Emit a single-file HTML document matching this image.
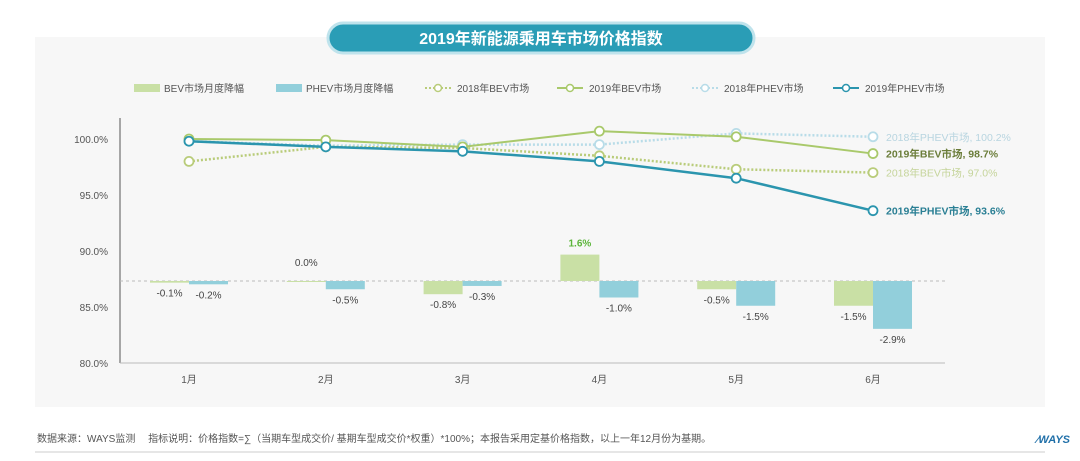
<!DOCTYPE html>
<html><head><meta charset="utf-8"><style>
body{margin:0;width:1080px;height:456px;background:#fff;font-family:"Liberation Sans","Noto Sans CJK SC",sans-serif;overflow:hidden}
</style></head><body>
<svg id="c" width="1080" height="456" xmlns="http://www.w3.org/2000/svg">
<rect x="35" y="37" width="1010" height="370" fill="#f7f7f7"/>
<rect x="328" y="23" width="426" height="30" rx="15" fill="#2a9db6" stroke="#bfe3ec" stroke-width="3"/>
<text x="541" y="44" text-anchor="middle" font-size="16" font-weight="bold" fill="#fff">2019年新能源乘用车市场价格指数</text>
<g id="legend" font-size="10" fill="#555">
 <g><rect x="134" y="84" width="26" height="8" fill="#c9e0a5"/><text x="164" y="92">BEV市场月度降幅</text></g>
 <g><rect x="276" y="84" width="26" height="8" fill="#92cfdb"/><text x="306" y="92">PHEV市场月度降幅</text></g>
 <g><line x1="425" y1="88" x2="451" y2="88" stroke="#b9cc7a" stroke-width="2" stroke-dasharray="2,2"/><circle cx="438" cy="88" r="3.5" fill="#fff" stroke="#b9cc7a" stroke-width="1.5"/><text x="457" y="92">2018年BEV市场</text></g>
 <g><line x1="557" y1="88" x2="583" y2="88" stroke="#a9c96b" stroke-width="2"/><circle cx="570" cy="88" r="3.5" fill="#fff" stroke="#a9c96b" stroke-width="1.5"/><text x="589" y="92">2019年BEV市场</text></g>
 <g><line x1="692" y1="88" x2="718" y2="88" stroke="#b8dce8" stroke-width="2" stroke-dasharray="2,2"/><circle cx="705" cy="88" r="3.5" fill="#fff" stroke="#b8dce8" stroke-width="1.5"/><text x="724" y="92">2018年PHEV市场</text></g>
 <g><line x1="833" y1="88" x2="859" y2="88" stroke="#2b95ae" stroke-width="2"/><circle cx="846" cy="88" r="3.5" fill="#fff" stroke="#2b95ae" stroke-width="1.5"/><text x="865" y="92">2019年PHEV市场</text></g>
</g>
<line x1="120" y1="118" x2="120" y2="363" stroke="#555" stroke-width="1"/>
<line x1="120" y1="363" x2="945" y2="363" stroke="#bbb" stroke-width="1"/>
<line x1="120" y1="281" x2="945" y2="281" stroke="#bbb" stroke-width="1" stroke-dasharray="3,3"/>
<g id="marks"></g>
<text x="37" y="442" font-size="10" fill="#555">数据来源：WAYS监测　 指标说明：价格指数=∑（当期车型成交价/ 基期车型成交价*权重）*100%；本报告采用定基价格指数，以上一年12月份为基期。</text>
<text x="1070" y="443" font-size="11" font-weight="bold" font-style="italic" fill="#1f6fa8" text-anchor="end">⁄WAYS</text>
<line x1="35" y1="452" x2="1045" y2="452" stroke="#ccc"/>
</svg>
<script>
const months=["1月","2月","3月","4月","5月","6月"];
const yTicks=[80,85,90,95,100];
const bev2018=[98.0,99.3,99.2,98.5,97.3,97.0];
const bev2019=[100.0,99.9,99.3,100.7,100.2,98.7];
const phev2018=[99.8,99.4,99.5,99.5,100.5,100.2];
const phev2019=[99.8,99.3,98.9,98.0,96.5,93.6];
const bevDrop=[-0.1,0.0,-0.8,1.6,-0.5,-1.5];
const phevDrop=[-0.2,-0.5,-0.3,-1.0,-1.5,-2.9];
const NS="http://www.w3.org/2000/svg";
const g=document.getElementById('marks');
const x=i=>189+i*136.8;
const y=v=>139+(100-v)*11.2;
const by=v=>281-v*16.5;
function el(t,a){const e=document.createElementNS(NS,t);for(const k in a)e.setAttribute(k,a[k]);g.appendChild(e);return e;}
yTicks.forEach(v=>{const t=el('text',{x:108,y:y(v)+4,'text-anchor':'end','font-size':10,fill:'#555'});t.textContent=v.toFixed(1)+'%';

});
months.forEach((m,i)=>{const t=el('text',{x:x(i),y:383,'text-anchor':'middle','font-size':10,fill:'#555'});t.textContent=m;

});
function bar(v,i,off,fill,name){const y0=by(Math.max(v,0)),h=Math.abs(by(v)-281);
const r=el('rect',{x:x(i)+off,y:y0,width:39,height:Math.max(h,1),fill:fill});


const pos=v>0;const lbl=el('text',{x:x(i)+off+19.5,y:pos?y0-8:by(v)+(v===0?-15:14),'text-anchor':'middle','font-size':10,fill:pos?'#5bb53a':'#444','font-weight':pos?'bold':'normal'});
lbl.textContent=v.toFixed(1)+'%';

}
bevDrop.forEach((v,i)=>bar(v,i,-39,'#c9e0a5','bev-drop-bar'));
phevDrop.forEach((v,i)=>bar(v,i,0,'#92cfdb','phev-drop-bar'));
function line(d,col,dash,name,w){const p=el('polyline',{points:d.map((v,i)=>x(i)+','+y(v)).join(' '),fill:'none',stroke:col,'stroke-width':w,'stroke-dasharray':dash||'none'});


d.forEach((v,i)=>{const c=el('circle',{cx:x(i),cy:y(v),r:4.5,fill:'#fff',stroke:col,'stroke-width':1.8});

});}
line(phev2018,'#b8dce8','2,2','line-2018-phev',2.5);
line(bev2018,'#b9cc7a','2,2','line-2018-bev',2.5);
line(bev2019,'#a9c96b',null,'line-2019-bev',2);
line(phev2019,'#2b95ae',null,'line-2019-phev',2.5);
function endLabel(d,txt,col,bold,name){const t=el('text',{x:x(5)+13,y:y(d[5])+4,'font-size':10.5,fill:col,'font-weight':bold?'bold':'normal'});
t.textContent=txt+', '+d[5].toFixed(1)+'%';

}
endLabel(phev2018,'2018年PHEV市场','#b8d5e0',false,'end-label-2018-phev');
endLabel(bev2019,'2019年BEV市场','#6b7d3a',true,'end-label-2019-bev');
endLabel(bev2018,'2018年BEV市场','#c5d49a',false,'end-label-2018-bev');
endLabel(phev2019,'2019年PHEV市场','#2a7f94',true,'end-label-2019-phev');
</script>
</body></html>
